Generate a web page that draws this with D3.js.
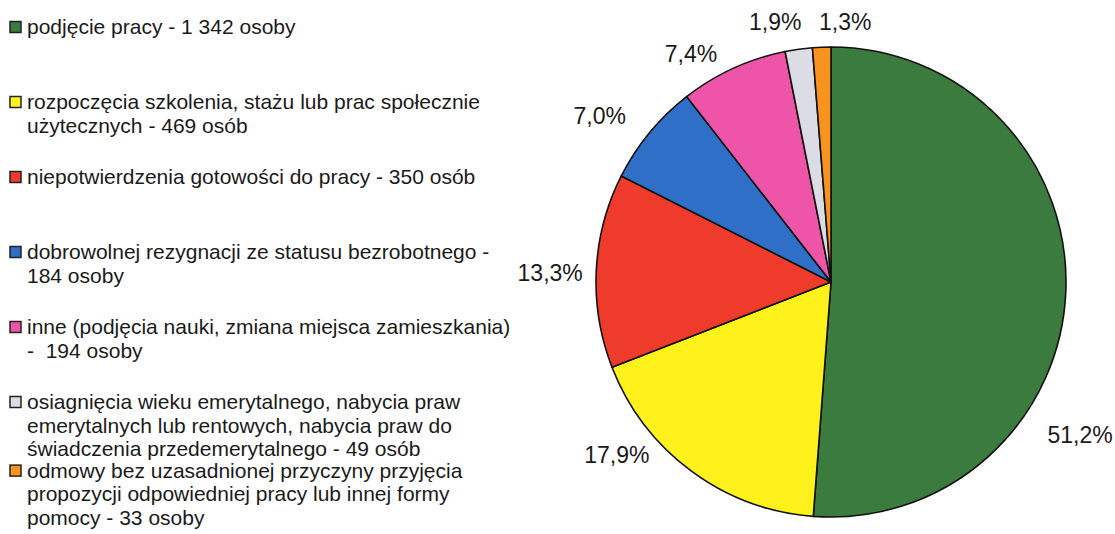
<!DOCTYPE html>
<html>
<head>
<meta charset="utf-8">
<script src="https://cdn.jsdelivr.net/npm/d3@7"></script>
<style>
  html, body { margin: 0; padding: 0; background: #ffffff; }
  svg { display: block; }
  text { font-family: "Liberation Sans", Arial, "DejaVu Sans", sans-serif; fill: #1a1a1a; }
</style>
</head>
<body>
<svg id="chart" width="1115" height="534"></svg>
<script>
// ---- data ----
const categories = [
  "podjęcie pracy - 1 342 osoby",
  "rozpoczęcia szkolenia, stażu lub prac społecznie\nużytecznych - 469 osób",
  "niepotwierdzenia gotowości do pracy - 350 osób",
  "dobrowolnej rezygnacji ze statusu bezrobotnego -\n184 osoby",
  "inne (podjęcia nauki, zmiana miejsca zamieszkania)\n-  194 osoby",
  "osiagnięcia wieku emerytalnego, nabycia praw\nemerytalnych lub rentowych, nabycia praw do\nświadczenia przedemerytalnego - 49 osób",
  "odmowy bez uzasadnionej przyczyny przyjęcia\npropozycji odpowiedniej pracy lub innej formy\npomocy - 33 osoby"
];
const values = [1342, 469, 350, 184, 194, 49, 33];
const percentLabels = ["51,2%", "17,9%", "13,3%", "7,0%", "7,4%", "1,9%", "1,3%"];
const colors = ["#3b7b3d", "#fff21c", "#ee3b2b", "#2f6fc8", "#ee55a8", "#dcdce4", "#f7931e"];

// ---- layout (styling / placement, not data) ----
const cx = 831, cy = 282, R = 235;
// label nudges relative to slice mid-angle (degrees) and radial distance beyond the rim
const labelNudge = [
  {da: 29.3, ex: 57}, {da: 14.6, ex: 40}, {da: -0.9, ex: 46}, {da: -3.7, ex: 50},
  {da: -6.9, ex: 33}, {da: -4.2, ex: 31}, {da: 5.4, ex: 26}
];

const svg = d3.select("#chart");

// ---- pie ----
const pie = d3.pie().sort(null).value(d => d)(values);
const arc = d3.arc().innerRadius(0).outerRadius(R);

const g = svg.append("g").attr("transform", `translate(${cx},${cy})`);
g.selectAll("path.slice")
  .data(pie)
  .join("path")
  .attr("class", "slice")
  .attr("d", arc)
  .attr("fill", (d, i) => colors[i])
  .attr("stroke", "#111")
  .attr("stroke-width", 1.6)
  .attr("stroke-linejoin", "round");

g.selectAll("text.pct")
  .data(pie)
  .join("text")
  .attr("class", "pct")
  .attr("text-anchor", "middle")
  .attr("dy", "0.36em")
  .attr("font-size", 23)
  .attr("transform", (d, i) => {
    const mid = (d.startAngle + d.endAngle) / 2 + labelNudge[i].da * Math.PI / 180;
    const rr = R + labelNudge[i].ex;
    return `translate(${rr * Math.sin(mid)},${-rr * Math.cos(mid)})`;
  })
  .text((d, i) => percentLabels[i]);

// ---- legend ----
const legend = svg.append("g");
const lineH = 23.7, slotH = 75, firstBaseline = 34, lastBaselineMax = 525;
const textX = 27, markX = 10, markS = 11;

let starts = [];
let y = firstBaseline;
categories.forEach((c, i) => {
  const n = c.split("\n").length;
  starts.push(y);
  y += Math.max(slotH, n * lineH);
});
// keep the final entry inside the bottom edge
const lastLines = categories[categories.length - 1].split("\n").length;
const lastEnd = starts[starts.length - 1] + (lastLines - 1) * lineH;
if (lastEnd > lastBaselineMax) starts[starts.length - 1] -= (lastEnd - lastBaselineMax);

categories.forEach((c, i) => {
  const lines = c.split("\n");
  const item = legend.append("g");
  item.append("rect")
    .attr("x", markX)
    .attr("y", starts[i] - 12.5)
    .attr("width", markS)
    .attr("height", markS)
    .attr("fill", colors[i])
    .attr("stroke", "#222")
    .attr("stroke-width", 1.5);
  const t = item.append("text")
    .attr("x", textX)
    .attr("y", starts[i])
    .attr("font-size", 21)
    .style("white-space", "pre");
  lines.forEach((ln, k) => {
    t.append("tspan")
      .attr("x", textX)
      .attr("y", starts[i] + k * lineH)
      .text(ln);
  });
});
</script>
</body>
</html>
